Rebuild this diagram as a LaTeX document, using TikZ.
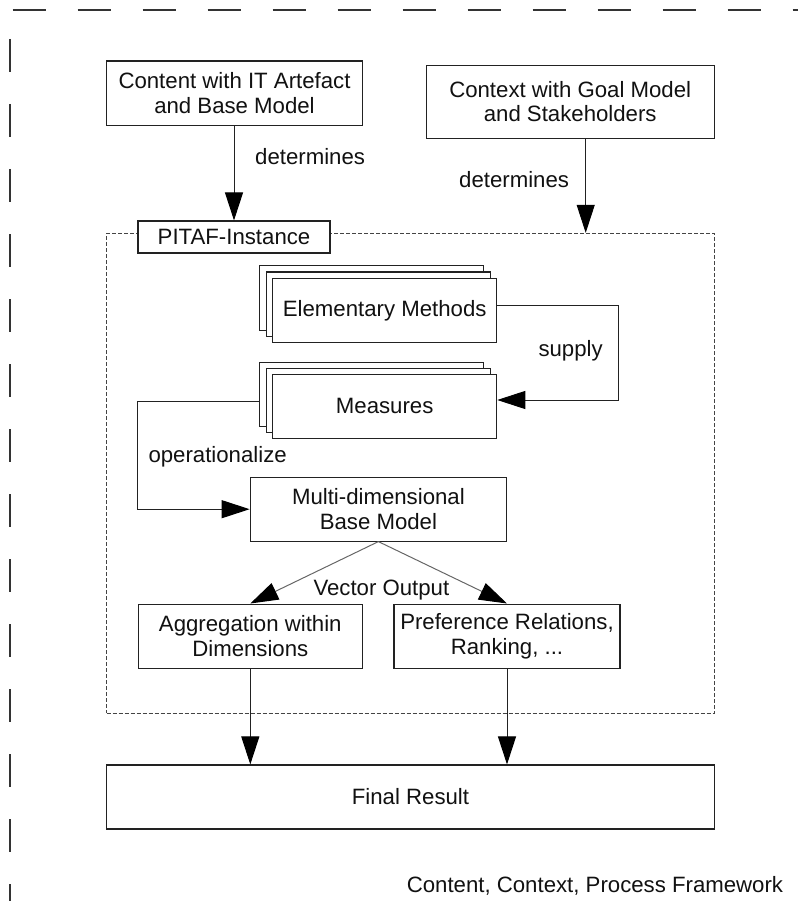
\documentclass[tikz,border=0pt]{standalone}
\usepackage{fontspec}
\setmainfont{Liberation Sans}
\usetikzlibrary{arrows.meta,calc}
\definecolor{boxc}{HTML}{222222}
\definecolor{framec}{HTML}{333333}
\definecolor{innerc}{HTML}{444444}
\definecolor{vecc}{HTML}{666666}
\definecolor{txtc}{HTML}{111111}
\begin{document}
\begin{tikzpicture}[x=1pt,y=-1pt,
  every node/.style={font=\fontsize{22.2}{24.5}\selectfont, inner sep=0pt, text=txtc},
  box/.style={draw=boxc, line width=1.1pt, fill=white, align=center},
  lbl/.style={anchor=base west},
  arr/.style={draw=boxc, line width=1pt, -{Triangle[length=28pt,width=18pt,color=black]}},
  vec/.style={draw=vecc, line width=1pt, -{Triangle[length=28pt,width=18pt,color=black]}},
  outerframe/.style={draw=framec, line width=1.4pt, dash pattern=on 33pt off 32pt},
  innerframe/.style={draw=innerc, line width=0.9pt, dash pattern=on 4pt off 2pt}]
\useasboundingbox (0,0) rectangle (798,901);

% outer partial frame
\coordinate (ftl) at (12.7,10);
\coordinate (ftr) at (798,10);
\coordinate (fl1) at (10,39);
\coordinate (fl2) at (10,901);
\draw[outerframe] (ftl) -- (ftr);
\draw[outerframe] (fl1) -- (fl2);

% top boxes
\node[box, minimum width=255.6pt, minimum height=64.3pt] (content) at (234.5,93.2)
  {Content with IT Artefact\\and Base Model};
\node[box, minimum width=288.3pt, minimum height=73pt] (context) at (570.2,101.8)
  {Context with Goal Model\\and Stakeholders};

% PITAF instance frame
\node[innerframe, minimum width=607.6pt, minimum height=480pt] (instance) at (410.5,473.3) {};
\node[box, minimum width=192pt, minimum height=32pt] (pitaf) at (234,237) {PITAF-Instance};

% arrows from top boxes
\draw[arr] (pitaf.north |- content.south) -- (pitaf.north);
\node[lbl] (det1) at (255,165) {determines};
\coordinate (carr) at (585.7,0);
\draw[arr] (carr |- context.south) -- (carr |- instance.north);
\node[lbl] (det2) at (459,188) {determines};

% Elementary methods stack
\node[box, minimum width=224pt, minimum height=64.4pt] (em3) at (371.7,297.9) {};
\node[box, minimum width=224pt, minimum height=64.4pt] (em2) at (378.2,304.2) {};
\node[box, minimum width=224pt, minimum height=64.4pt] (em) at (384.7,310.5) {Elementary Methods};

% Measures stack
\node[box, minimum width=224pt, minimum height=64.3pt] (ms3) at (371.5,394.6) {};
\node[box, minimum width=224pt, minimum height=64.3pt] (ms2) at (378.1,400.4) {};
\node[box, minimum width=224pt, minimum height=64.3pt] (ms) at (384.7,406.2) {Measures};

% supply
\draw[arr] ([yshift=5.5pt]em.east) -- ++(121.6,0) |- ([yshift=6.2pt]ms.east);
\node[lbl] (sup) at (538.3,356.7) {supply};

% Multi-dimensional base model
\node[box, minimum width=256.4pt, minimum height=63.7pt] (mb) at (378.4,509.2)
  {Multi-dimensional\\Base Model};

% operationalize
\draw[arr] ([yshift=-6.6pt]ms3.west) -- ++(-121.7,0) |- (mb.west);
\node[lbl] (op) at (148.3,462.7) {operationalize};

% Output boxes
\node[box, minimum width=224pt, minimum height=64.3pt] (agg) at (250.3,636.2)
  {Aggregation within\\Dimensions};
\node[box, minimum width=226pt, minimum height=64.3pt] (pref) at (507,636.2)
  {Preference Relations,\\Ranking, ...};

\draw[vec] (mb.south) -- (agg.north);
\draw[vec] (mb.south) -- (pref.north);
\node[lbl] (vo) at (313.3,595) {Vector Output};

% Final result
\node[box, minimum width=607.6pt, minimum height=64pt] (final) at (410.5,797) {Final Result};
\draw[arr] (agg.south) -- (agg.south |- final.north);
\draw[arr] (pref.south) -- (pref.south |- final.north);

% caption
\node[anchor=base east] (cap) at (783.3,892.3) {Content, Context, Process Framework};
\end{tikzpicture}
\end{document}
